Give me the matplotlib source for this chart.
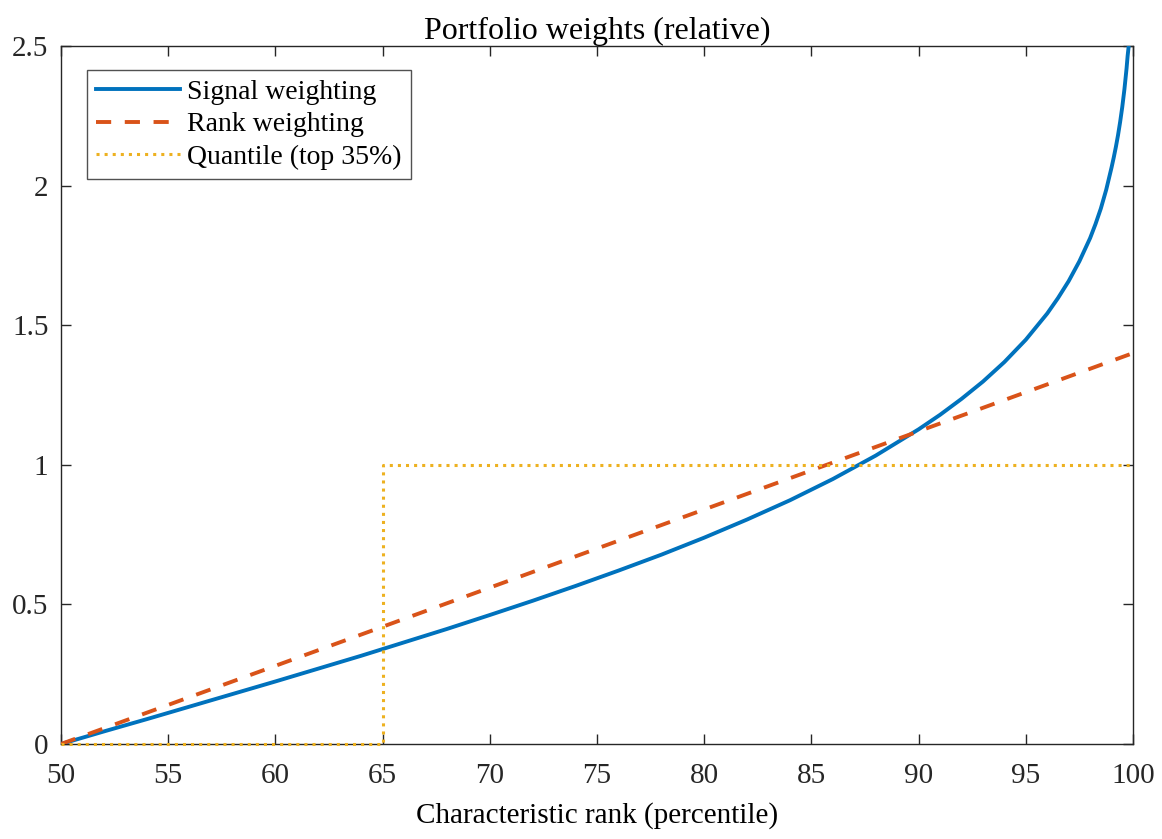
import numpy as np
import matplotlib.pyplot as plt

plt.rcParams['font.family'] = ['Liberation Serif', 'DejaVu Serif']

# -----------------------------
# Data
# -----------------------------
# Signal weighting (percentile -> relative weight)
sig_pct = [50, 52, 54, 56, 58, 60, 62, 64, 66, 68, 70, 72, 74, 76, 78, 80,
           82, 84, 86, 88, 90, 91, 92, 93, 94, 95, 96, 96.5, 97, 97.5, 98,
           98.25, 98.5, 98.75, 99, 99.1, 99.2, 99.3, 99.4, 99.5, 99.6, 99.7,
           99.75, 99.8, 99.83]
sig_w = [0.0, 0.045, 0.089, 0.134, 0.179, 0.224, 0.270, 0.316, 0.364, 0.412,
         0.462, 0.513, 0.566, 0.621, 0.678, 0.739, 0.804, 0.873, 0.949, 1.033,
         1.127, 1.179, 1.236, 1.298, 1.368, 1.448, 1.542, 1.597, 1.658, 1.729,
         1.812, 1.862, 1.918, 1.985, 2.065, 2.100, 2.138, 2.180, 2.228, 2.282,
         2.345, 2.420, 2.465, 2.500, 2.52]

# Rank weighting: straight line
rank_pct = [50, 100]
rank_w = [0.0, 1.4]

# Quantile (top 35%): step at 65
quant_pct = [50, 65, 65, 100]
quant_w = [0, 0, 1, 1]

# -----------------------------
# Plot
# -----------------------------
fig = plt.figure(figsize=(11.62, 8.39), dpi=100)
ax = fig.add_axes([61/1162, 1 - 744/839, (1133 - 61)/1162, (744 - 46)/839])

ax.plot(sig_pct, sig_w, color='#0072BD', lw=2.8, label='Signal weighting', zorder=3)
ax.plot(rank_pct, rank_w, color='#D95319', lw=2.8, ls=(0, (3.9, 3.5)),
        label='Rank weighting', zorder=3)
ax.plot(quant_pct, quant_w, color='#EDB120', lw=2.2, ls=(0, (1.0, 1.65)),
        label='Quantile (top 35%)', zorder=3, clip_on=False)

ax.set_xlim(50, 100)
ax.set_ylim(0, 2.5)
ax.set_xticks(np.arange(50, 101, 5))
ax.set_yticks([0, 0.5, 1, 1.5, 2, 2.5])
ax.set_yticklabels(['0', '0.5', '1', '1.5', '2', '2.5'])

for s in ax.spines.values():
    s.set_color('#262626')
    s.set_linewidth(1.0)
ax.tick_params(direction='in', length=7.5, width=1.0, colors='#262626',
               top=True, right=True, labelsize=21)
ax.tick_params(axis='x', pad=14)
ax.tick_params(axis='y', pad=9)
for lab in ax.get_xticklabels() + ax.get_yticklabels():
    lab.set_color('#262626')

ax.set_title('Portfolio weights (relative)', fontsize=23, color='black', pad=5)
ax.set_xlabel('Characteristic rank (percentile)', fontsize=21, color='black', labelpad=9)

leg = ax.legend(loc='upper left', bbox_to_anchor=(0.024, 0.966), fontsize=20,
                frameon=True, fancybox=False, handlelength=3.0, handletextpad=0.25,
                borderpad=0.35, labelspacing=0.25, borderaxespad=0)
leg.get_frame().set_edgecolor('#262626')
leg.get_frame().set_linewidth(1.0)

fig.savefig('out.png', dpi=100)
